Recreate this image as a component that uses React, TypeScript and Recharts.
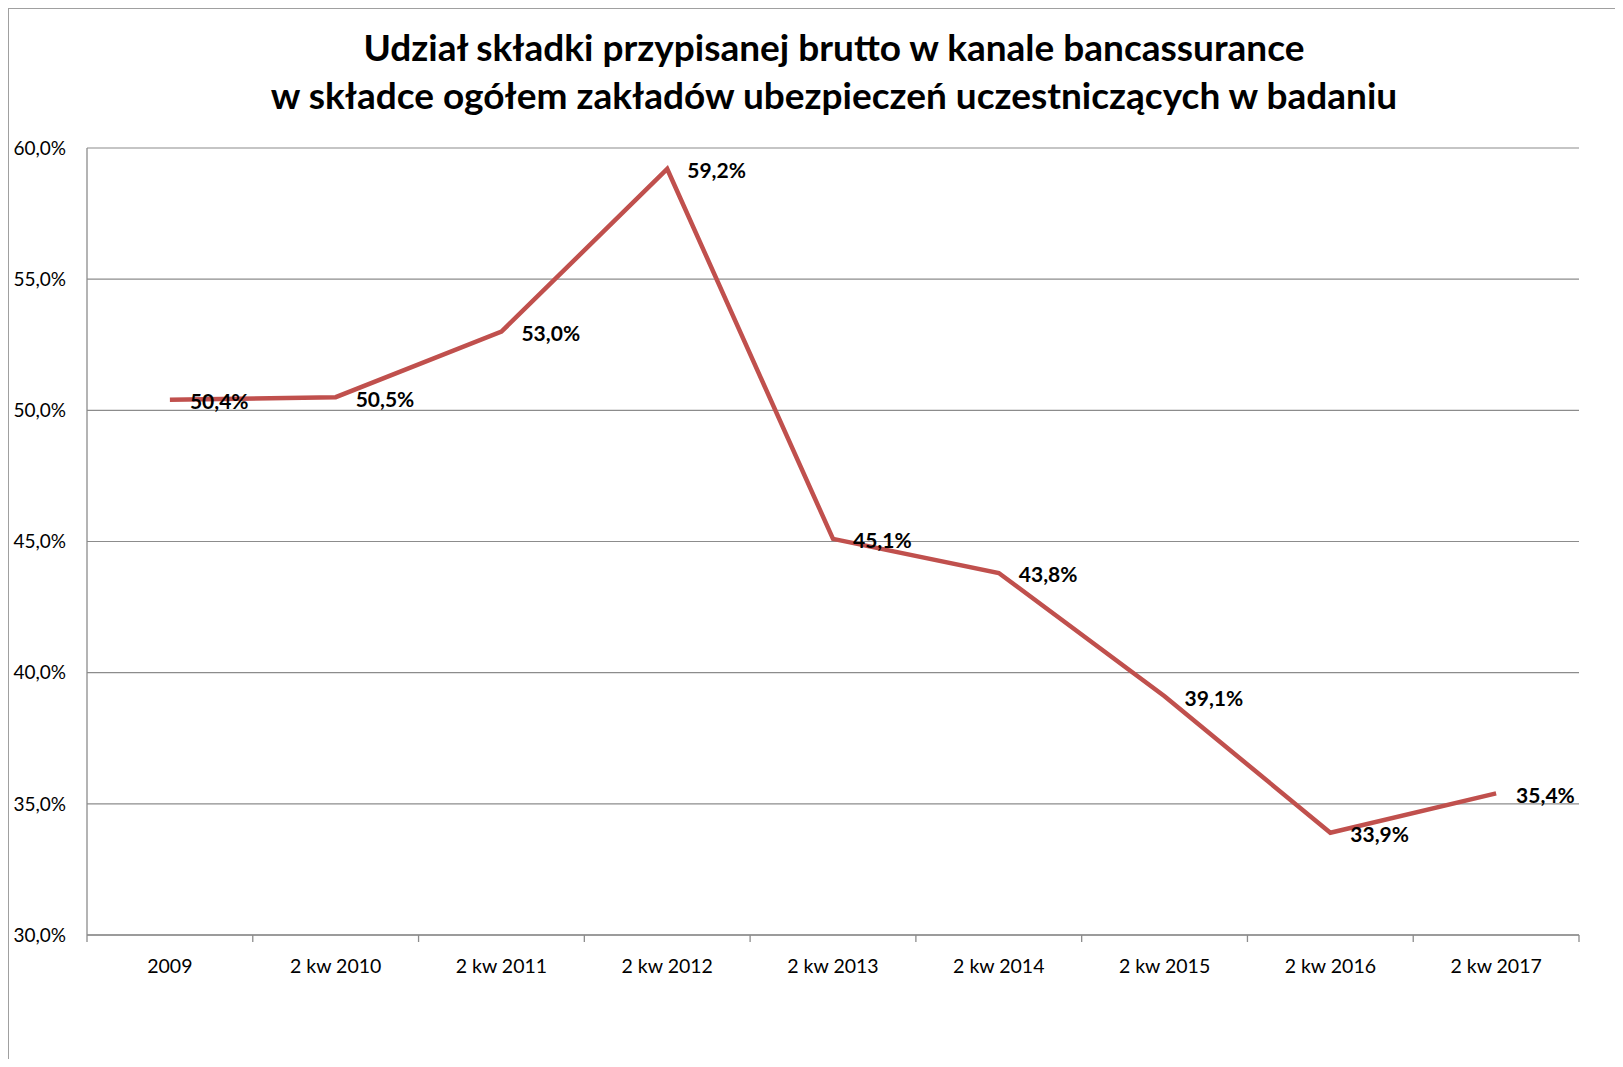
import React from 'react';
import { LineChart, Line, XAxis, YAxis, CartesianGrid, LabelList } from 'recharts';

const categories = [
  '2009',
  '2 kw 2010',
  '2 kw 2011',
  '2 kw 2012',
  '2 kw 2013',
  '2 kw 2014',
  '2 kw 2015',
  '2 kw 2016',
  '2 kw 2017',
];

// udział bancassurance w składce ogółem, %
const shares = [50.4, 50.5, 53.0, 59.2, 45.1, 43.8, 39.1, 33.9, 35.4];

const yTicks = [30, 35, 40, 45, 50, 55, 60];

const titleLines = [
  'Udział składki przypisanej brutto w kanale bancassurance',
  'w składce ogółem zakładów ubezpieczeń uczestniczących w badaniu',
];

const FONT = 'Lato, "Open Sans", sans-serif';
const AXIS_GREY = '#8c8c8c';
const LINE_RED = '#C0504D';

const data = categories.map((label, i) => ({ x: i, label, value: shares[i] }));

// centres carry the labels, the half steps carry Excel-style boundary ticks
const xTicks = [
  ...categories.map((_, i) => i - 0.5),
  categories.length - 0.5,
  ...categories.map((_, i) => i),
].sort((a, b) => a - b);

const fmtPct = (v: number) => `${v.toFixed(1).replace('.', ',')}%`;

const XTick = (props: any) => {
  const { x, y, payload } = props;
  const v = payload.value;
  if (!Number.isInteger(v)) {
    return <line x1={x} y1={y} x2={x} y2={y + 7} stroke={AXIS_GREY} strokeWidth={1.3} />;
  }
  return (
    <text x={x} y={y + 38} textAnchor="middle" fontFamily={FONT} fontSize={19.5} fill="#000">
      {categories[v]}
    </text>
  );
};

const PointLabel = (props: any) => {
  const { x, y, value } = props;
  return (
    <text
      x={x + 20}
      y={y + 1}
      dominantBaseline="central"
      fontFamily={FONT}
      fontSize={21}
      fontWeight="bold"
      fill="#000"
    >
      {fmtPct(value)}
    </text>
  );
};

export default function App() {
  const width = 1614;
  const height = 1050;

  return (
    <div
      style={{
        position: 'relative',
        width: 1615,
        height: 1051,
        boxSizing: 'border-box',
        borderLeft: '1px solid #a0a0a0',
        borderTop: '1px solid #a0a0a0',
        background: '#fff',
      }}
    >
      <svg
        width={width}
        height={120}
        style={{ position: 'absolute', left: 0, top: 0, pointerEvents: 'none' }}
      >
        {titleLines.map((t, i) => (
          <text
            key={i}
            x={825}
            y={52 + i * 48}
            textAnchor="middle"
            fontFamily={FONT}
            fontSize={37}
            fontWeight="bold"
            fill="#000"
          >
            {t}
          </text>
        ))}
      </svg>
      <LineChart
        width={width}
        height={height}
        data={data}
        margin={{ top: 139, right: 44, left: 0, bottom: 64 }}
      >
        <CartesianGrid vertical={false} stroke={AXIS_GREY} strokeWidth={1.2} />
        <XAxis
          dataKey="x"
          type="number"
          domain={[-0.5, categories.length - 0.5]}
          ticks={xTicks}
          interval={0}
          allowDataOverflow
          tickLine={false}
          tickSize={0}
          tickMargin={0}
          tick={<XTick />}
          height={60}
          stroke={AXIS_GREY}
          strokeWidth={1.3}
        />
        <YAxis
          domain={[30, 60]}
          ticks={yTicks}
          interval={0}
          width={78}
          tickLine={false}
          tickSize={0}
          tickMargin={21}
          tickFormatter={fmtPct}
          tick={{ fontFamily: FONT, fontSize: 19, fill: '#000' }}
          stroke={AXIS_GREY}
          strokeWidth={1.3}
        />
        <Line
          type="linear"
          dataKey="value"
          stroke={LINE_RED}
          strokeWidth={4.5}
          dot={false}
          activeDot={false}
          isAnimationActive={false}
        >
          <LabelList dataKey="value" content={<PointLabel />} />
        </Line>
      </LineChart>
    </div>
  );
}
